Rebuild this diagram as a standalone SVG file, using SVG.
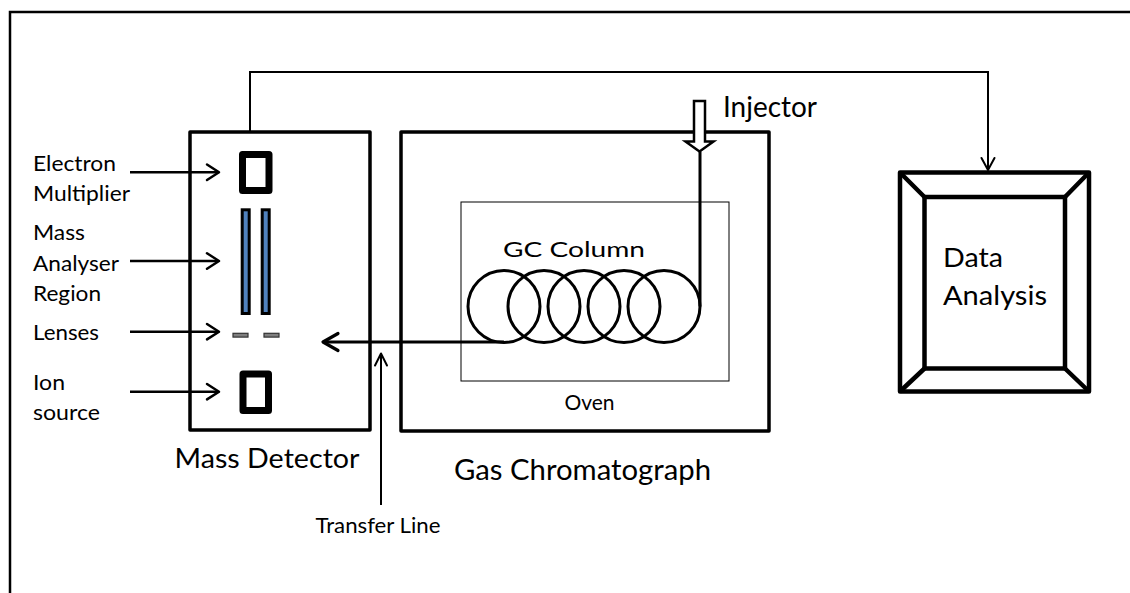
<svg xmlns="http://www.w3.org/2000/svg" width="1130" height="593" viewBox="0 0 1130 593">
<defs>
<style>
.t{font-family:Lato,"Open Sans","Liberation Sans",sans-serif;fill:#000}
.box{fill:none;stroke:#000;stroke-width:3.5;stroke-linejoin:round}
.ln{fill:none;stroke:#000;stroke-width:2.5}
.ah{fill:none;stroke:#000;stroke-width:2.5;stroke-linecap:round;stroke-linejoin:round}
.coil{fill:none;stroke:#000;stroke-width:3}
.rod{fill:#4f81bd;stroke:#000;stroke-width:3}
.lens{fill:#7f7f7f;stroke:#333;stroke-width:1.2}
.blk{fill:#fff;stroke:#000;stroke-width:7;stroke-linejoin:round}
.da{fill:none;stroke:#000;stroke-width:4.5;stroke-linejoin:round}
</style>
</defs>
<rect width="1130" height="593" fill="#fff"/>
<path d="M10,593 V12 H1130" fill="none" stroke="#000" stroke-width="2.5"/>

<g id="mass-detector">
<rect class="box" x="190" y="132" width="180" height="298"/>
<rect class="blk" x="242.5" y="154.5" width="26.5" height="36"/>
<rect class="rod" x="242.2" y="209.8" width="7" height="103.7"/>
<rect class="rod" x="262.2" y="209.8" width="7" height="103.7"/>
<rect class="lens" x="233" y="333.3" width="15" height="3.8"/>
<rect class="lens" x="264" y="333.3" width="15" height="3.8"/>
<rect class="blk" x="243" y="374" width="25.5" height="36.5"/>
<text class="t" x="174.5" y="468" font-size="27" textLength="185" lengthAdjust="spacingAndGlyphs">Mass Detector</text>
</g>

<g id="labels">
<text class="t" x="33" y="170.7" font-size="21.5" textLength="83" lengthAdjust="spacingAndGlyphs">Electron</text>
<text class="t" x="33" y="200.7" font-size="21.5" textLength="97" lengthAdjust="spacingAndGlyphs">Multiplier</text>
<text class="t" x="33" y="240" font-size="21.5" textLength="52" lengthAdjust="spacingAndGlyphs">Mass</text>
<text class="t" x="33" y="270.5" font-size="21.5" textLength="86" lengthAdjust="spacingAndGlyphs">Analyser</text>
<text class="t" x="33" y="300.5" font-size="21.5" textLength="68" lengthAdjust="spacingAndGlyphs">Region</text>
<text class="t" x="33" y="340" font-size="21.5" textLength="66" lengthAdjust="spacingAndGlyphs">Lenses</text>
<text class="t" x="33" y="389.5" font-size="21.5" textLength="32" lengthAdjust="spacingAndGlyphs">Ion</text>
<text class="t" x="33" y="420" font-size="21.5" textLength="67" lengthAdjust="spacingAndGlyphs">source</text>
</g>

<g id="gas-chromatograph">
<rect class="box" x="401" y="132" width="368" height="299"/>
<rect x="461" y="202" width="268" height="179" fill="none" stroke="#000" stroke-width="1"/>
<text class="t" x="589.5" y="410" font-size="21" text-anchor="middle">Oven</text>
<text class="t" x="503" y="256.7" font-size="21" textLength="142" lengthAdjust="spacingAndGlyphs">GC Column</text>
<circle class="coil" cx="504" cy="306.5" r="36"/>
<circle class="coil" cx="544" cy="306.5" r="36"/>
<circle class="coil" cx="584" cy="306.5" r="36"/>
<circle class="coil" cx="624" cy="306.5" r="36"/>
<circle class="coil" cx="664" cy="306.5" r="36"/>
<text class="t" x="454" y="480" font-size="29" textLength="257" lengthAdjust="spacingAndGlyphs">Gas Chromatograph</text>
</g>

<g id="injector">
<polygon points="694,101 705,101 705,141.5 713.5,141.5 699.5,151.5 685.5,141.5 694,141.5" fill="#fff" stroke="#000" stroke-width="2.5" stroke-linejoin="miter"/>
<text class="t" x="723" y="116.7" font-size="28" textLength="94" lengthAdjust="spacingAndGlyphs">Injector</text>
</g>

<g id="data-analysis">
<rect class="da" x="900" y="172.5" width="189" height="219"/>
<rect class="da" x="924.5" y="197" width="140.5" height="171.5"/>
<path class="da" d="M900,172.5 L924.5,197 M1089,172.5 L1065,197 M900,391.5 L924.5,368.5 M1089,391.5 L1065,368.5"/>
<text class="t" x="943" y="266.7" font-size="26.5" textLength="60" lengthAdjust="spacingAndGlyphs">Data</text>
<text class="t" x="943" y="305" font-size="26.5" textLength="104" lengthAdjust="spacingAndGlyphs">Analysis</text>
</g>

<g id="transfer-line-label">
<text class="t" x="315.5" y="533" font-size="21" textLength="125" lengthAdjust="spacingAndGlyphs">Transfer Line</text>
</g>

<g id="connectors">
<path class="ln" d="M130,172.3 H218"/>
<path class="ah" d="M207,164.5 L219,172.3 L207,180"/>
<path class="ln" d="M130,261 H218"/>
<path class="ah" d="M207,253.3 L219,261 L207,268.7"/>
<path class="ln" d="M130,331.7 H218"/>
<path class="ah" d="M207,324 L219,331.7 L207,339.4"/>
<path class="ln" d="M130,391.7 H218"/>
<path class="ah" d="M207,384 L219,391.7 L207,399.4"/>
<path d="M700,151.5 V306.5" fill="none" stroke="#000" stroke-width="3"/>
<path d="M504,342 H324" fill="none" stroke="#000" stroke-width="3"/>
<path d="M338,333.5 L323,342 L338,350.5" fill="none" stroke="#000" stroke-width="3.2" stroke-linecap="round" stroke-linejoin="round"/>
<path d="M381,505 V355" fill="none" stroke="#000" stroke-width="2"/>
<path d="M375,365.5 L381,353.5 L387,365.5" fill="none" stroke="#000" stroke-width="2" stroke-linecap="round" stroke-linejoin="round"/>
<path d="M250,132 V72 H988 V169" fill="none" stroke="#000" stroke-width="2"/>
<path d="M981.5,158 L988,170 L994.5,158" fill="none" stroke="#000" stroke-width="2" stroke-linecap="round" stroke-linejoin="round"/>
</g>
</svg>
